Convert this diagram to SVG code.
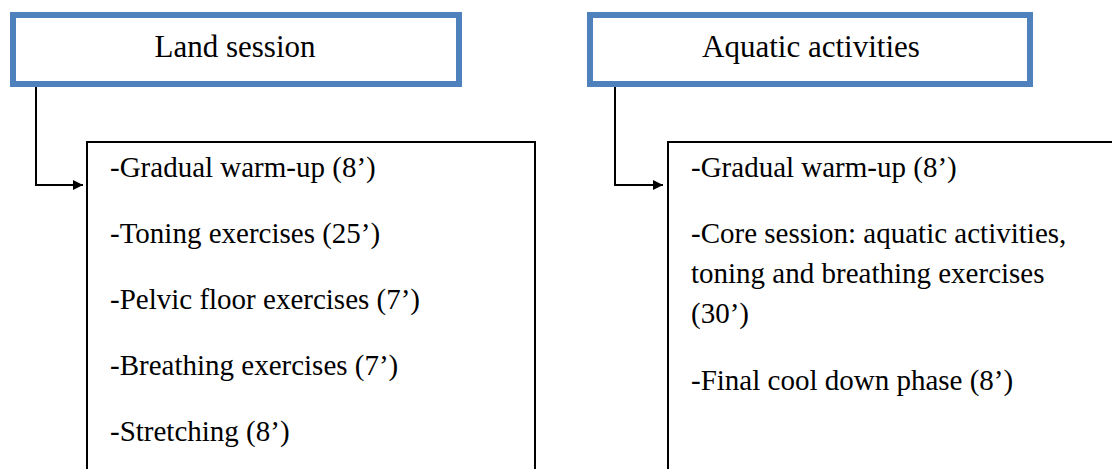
<svg xmlns="http://www.w3.org/2000/svg" width="1112" height="469" viewBox="0 0 1112 469">
<style>
.head{fill:#ffffff;stroke:#4F81BD;stroke-width:6}
.body{fill:#ffffff;stroke:#000000;stroke-width:2}
.ht{font-size:31px;fill:#000;text-anchor:middle}
.bt{font-size:29px;fill:#000}
.conn{fill:none;stroke:#000;stroke-width:2}
</style>
<defs>
<marker id="arr" viewBox="0 0 10 10" refX="10" refY="5" markerWidth="10" markerHeight="10" markerUnits="userSpaceOnUse" orient="auto">
<path d="M0,0 L10,5 L0,10 Z" fill="#000"/>
</marker>
</defs>
<rect width="1112" height="469" fill="#ffffff"/>
<g font-family="'Liberation Serif', 'Times New Roman', 'DejaVu Serif', serif">
<g id="land-session">
<rect class="head" x="13" y="15" width="446" height="69"/>
<text class="ht" x="235" y="57">Land session</text>
</g>
<g id="aquatic-activities">
<rect class="head" x="590" y="15" width="440" height="69"/>
<text class="ht" x="811" y="57">Aquatic activities</text>
</g>
<g id="land-content">
<rect class="body" x="87" y="142" width="448" height="400"/>
<text class="bt" x="110" y="177">-Gradual warm-up (8’)</text>
<text class="bt" x="110" y="243">-Toning exercises (25’)</text>
<text class="bt" x="110" y="309">-Pelvic floor exercises (7’)</text>
<text class="bt" x="110" y="375">-Breathing exercises (7’)</text>
<text class="bt" x="110" y="441">-Stretching (8’)</text>
</g>
<g id="aquatic-content">
<rect class="body" x="668" y="142" width="500" height="400"/>
<text class="bt" x="691" y="177">-Gradual warm-up (8’)</text>
<text class="bt" x="691" y="243">-Core session: aquatic activities,</text>
<text class="bt" x="691" y="283">toning and breathing exercises</text>
<text class="bt" x="691" y="323">(30’)</text>
<text class="bt" x="691" y="390">-Final cool down phase (8’)</text>
</g>
</g>
<g id="connectors">
<path class="conn" d="M36,87 V185 H83" marker-end="url(#arr)"/>
<path class="conn" d="M615,87 V185 H663" marker-end="url(#arr)"/>
</g>
</svg>
